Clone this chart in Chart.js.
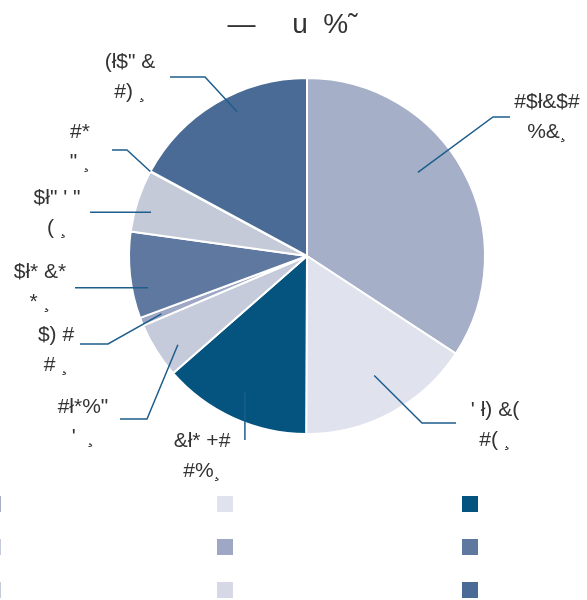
<!DOCTYPE html>
<html>
<head>
<meta charset="utf-8">
<script src="https://cdn.jsdelivr.net/npm/chart.js@4/dist/chart.umd.min.js"></script>
<style>
  html, body { margin: 0; padding: 0; background: #ffffff; overflow: hidden; }
  #wrap { position: relative; width: 587px; height: 600px; }
</style>
</head>
<body>
<div id="wrap"><canvas id="c" width="587" height="600"></canvas></div>
<script>
// ---- data ----
const titleText = "\u2014    \u2009u  %\u02DC   \u2009";
const categories = ["", "", "", "", "", "", "", "", ""];
const values = [12421, 5746, 4891, 1830, 271, 2848, 2050, 18, 6204];
const valueText = ["#$ł&$#", "' ł) &(", "&ł* +#", "#ł*%\"", "$) #", "$ł* &*", "$ł\" ' \"", "#*", "(ł$\" &"];
const percentText = ["%&¸", "#( ¸", "#%¸", "'  ¸", "# ¸", "* ¸", "( ¸", "\" ¸", "#) ¸"];
const colors = ["#a6afc8", "#e0e3ed", "#05547f", "#c6cbdb", "#9ea8c4", "#5e78a0", "#c5cad9", "#d6d8e6", "#4a6b96"];

// ---- label layout (offsets from pie centre, px) ----
const labelLayout = [
  {t: 0.43, f: 0.78, elbow: [186, -139], end: [203, -139], text: [240, -139]},
  {t: 0.48, f: 0.77, elbow: [115, 167],  end: [149, 167],  text: [188, 169]},
  {t: 0.50, f: 0.84, elbow: null,        end: [null, 184], text: [-105, 200]},
  {t: 0.37, f: 0.88, elbow: [-160, 163], end: [-187, 163], text: [-224, 166]},
  {t: 0.50, f: 0.88, elbow: [-199, 88],  end: [-227, 88],  text: [-251, 94]},
  {t: 0.32, f: 0.91, elbow: null,        end: [-232, null], text: [-267, 31]},
  {t: 0.38, f: 0.91, elbow: null,        end: [-217, null], text: [-250, -43]},
  {t: 0.50, f: 1.00, elbow: [-180, -106], end: [-195, -106], text: [-227, -109]},
  {t: 0.58, f: 0.90, elbow: [-102, -179], end: [-137, -179], text: [-177, -179]}
];
const legendCols = [-15, 217, 462];
const legendRows = [496, 539, 582];
const legendBox = 16;

const outLabels = {
  id: 'outLabels',
  afterDatasetsDraw(chart) {
    const ctx = chart.ctx;
    const meta = chart.getDatasetMeta(0);
    ctx.save();
    meta.data.forEach((arc, i) => {
      const L = labelLayout[i];
      if (!L) return;
      const p = arc.getProps(['x', 'y', 'startAngle', 'endAngle', 'outerRadius'], true);
      const cx = p.x, cy = p.y, r = p.outerRadius;
      const a = p.startAngle + L.t * (p.endAngle - p.startAngle);
      const ax = cx + Math.cos(a) * r * L.f;
      const ay = cy + Math.sin(a) * r * L.f;
      const ex = L.end[0] === null ? ax : cx + L.end[0];
      const ey = L.end[1] === null ? ay : cy + L.end[1];
      ctx.beginPath();
      ctx.moveTo(ax, ay);
      if (L.elbow) ctx.lineTo(cx + L.elbow[0], cy + L.elbow[1]);
      ctx.lineTo(ex, ey);
      ctx.strokeStyle = '#1d5e8c';
      ctx.lineWidth = 1.5;
      ctx.stroke();
      ctx.fillStyle = '#333333';
      ctx.font = '21px "Liberation Sans", Arial, sans-serif';
      ctx.textAlign = 'center';
      ctx.textBaseline = 'middle';
      const tx = cx + L.text[0], ty = cy + L.text[1];
      ctx.fillText(valueText[i], tx, ty - 15);
      ctx.fillText(percentText[i], tx, ty + 15);
    });
    ctx.restore();
  },
  afterDraw(chart) {
    const ctx = chart.ctx;
    const bg = chart.data.datasets[0].backgroundColor;
    ctx.save();
    chart.data.labels.forEach((lab, i) => {
      const col = i % 3, row = Math.floor(i / 3);
      ctx.fillStyle = bg[i];
      ctx.fillRect(legendCols[col], legendRows[row], legendBox, legendBox);
      ctx.fillStyle = '#333333';
      ctx.font = '14px "Liberation Sans", Arial, sans-serif';
      ctx.textBaseline = 'middle';
      ctx.textAlign = 'left';
      ctx.fillText(lab, legendCols[col] + legendBox + 8, legendRows[row] + legendBox / 2);
    });
    ctx.restore();
  }
};

new Chart(document.getElementById('c'), {
  type: 'pie',
  data: {
    labels: categories,
    datasets: [{
      data: values,
      backgroundColor: colors,
      borderColor: '#ffffff',
      borderWidth: 2
    }]
  },
  options: {
    responsive: false,
    devicePixelRatio: 1,
    animation: false,
    layout: { padding: { left: 128, right: 101, top: 0, bottom: 165 } },
    plugins: {
      legend: { display: false },
      tooltip: { enabled: false },
      title: {
        display: true,
        text: titleText,
        color: '#333333',
        font: { size: 28, family: '"Liberation Sans", Arial, sans-serif', weight: 'normal', lineHeight: 1.2 },
        padding: { top: 8, bottom: 35.4 }
      }
    }
  },
  plugins: [outLabels]
});
</script>
</body>
</html>
